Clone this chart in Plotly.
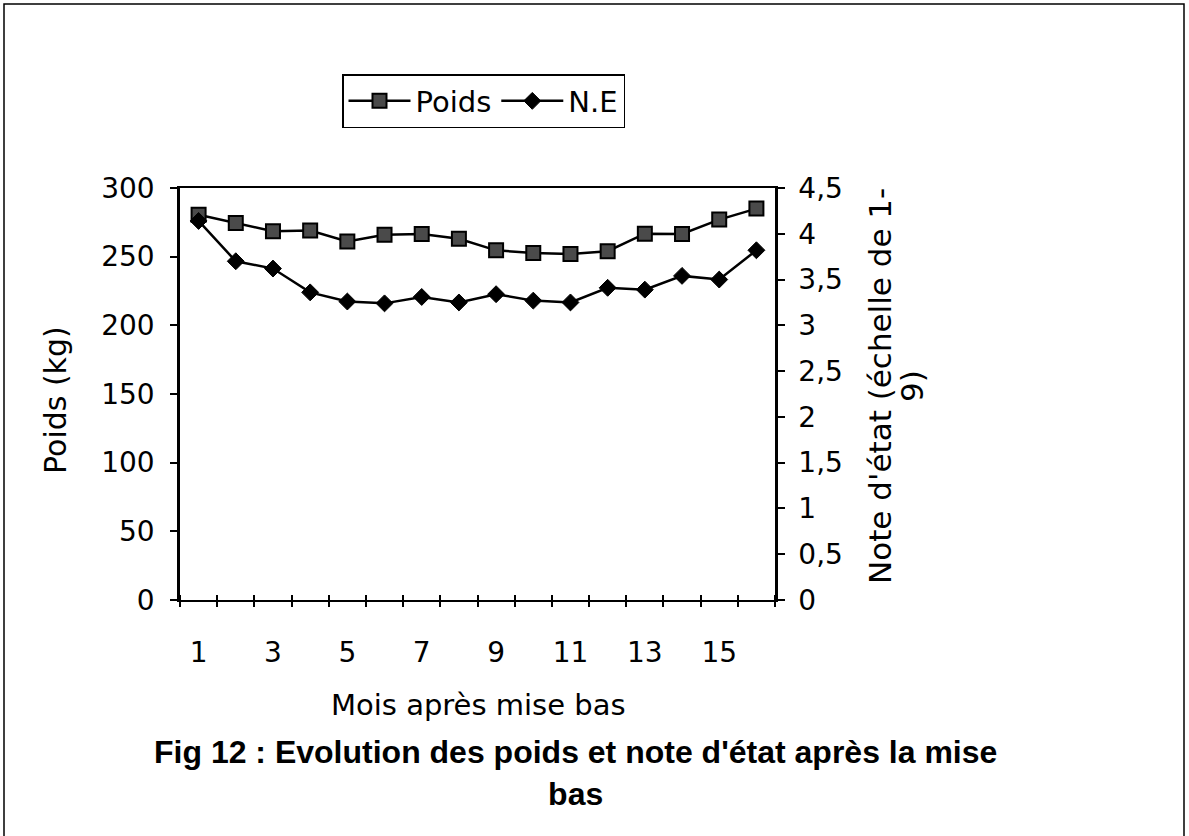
import plotly.graph_objects as go

mois = list(range(1, 17))
poids = [280.5, 274.5, 268.5, 269, 261, 266, 266.5, 263, 254.6, 252.7, 252, 254, 266.7, 266.5, 277, 285]
note_etat = [4.14, 3.70, 3.62, 3.36, 3.26, 3.24, 3.31, 3.25, 3.34, 3.27, 3.25, 3.41, 3.39, 3.54, 3.50, 3.82]
x_ticklabels = [1, 3, 5, 7, 9, 11, 13, 15]
boundaries = [m - 0.5 for m in mois] + [16.5]

W, H = 1189, 836
L, R, T, B = 180, 775, 188, 600
PW, PH = R - L, B - T

def px(x):
    return (x - L) / PW

def py(y):
    return (B - y) / PH

FONT = "DejaVu Sans, Arial, sans-serif"
TFONT = "Liberation Sans, Arial, sans-serif"

fig = go.Figure()
fig.add_trace(go.Scatter(
    x=mois, y=poids, name="Poids", mode="lines+markers",
    line=dict(color="black", width=2.5),
    marker=dict(symbol="square", size=14, color="#4a4a4a",
                line=dict(color="black", width=2)),
    xaxis="x", yaxis="y"))
fig.add_trace(go.Scatter(
    x=mois, y=note_etat, name="N.E", mode="lines+markers",
    line=dict(color="black", width=2.5),
    marker=dict(symbol="diamond", size=13, color="black",
                line=dict(color="black", width=1)),
    xaxis="x", yaxis="y2"))
# invisible helper trace so the tick-only overlay axis (crossing ticks) is drawn
fig.add_trace(go.Scatter(
    x=mois, y=poids, mode="lines", opacity=0, line=dict(width=0),
    showlegend=False, hoverinfo="skip", xaxis="x2", yaxis="y"))

fig.update_layout(
    width=W, height=H,
    margin=dict(l=L, r=W - R, t=T, b=H - B, pad=0),
    paper_bgcolor="white", plot_bgcolor="white",
    separators=", ",
    font=dict(family=FONT, size=28, color="black"),
    showlegend=True,
    legend=dict(orientation="h", xref="container", yref="container",
                x=342 / W, y=1 - 74 / H, xanchor="left", yanchor="top",
                bordercolor="black", borderwidth=1.5,
                font=dict(size=29), itemwidth=62, tracegroupgap=0,
                bgcolor="white"),
    xaxis=dict(range=[0.5, 16.5], tickmode="array", tickvals=x_ticklabels,
               ticktext=[str(v) for v in x_ticklabels], ticks="",
               ticklabelstandoff=26, showgrid=False, zeroline=False,
               showline=True, linecolor="black", linewidth=2, mirror=True,
               tickfont=dict(size=28)),
    xaxis2=dict(range=[0.5, 16.5], overlaying="x", anchor="free",
                position=6 / PH, side="bottom",
                tickmode="array", tickvals=boundaries, ticks="outside",
                ticklen=12, tickwidth=1.5, tickcolor="black",
                showticklabels=False, showgrid=False, zeroline=False,
                showline=False),
    yaxis=dict(range=[0, 300], dtick=50, tick0=0, ticks="outside",
               ticklen=7, tickwidth=1.5, tickcolor="black",
               ticklabelstandoff=10, showgrid=False, zeroline=False,
               showline=True, linecolor="black", linewidth=2.5,
               tickfont=dict(size=28)),
    yaxis2=dict(range=[0, 4.5], dtick=0.5, tick0=0, overlaying="y",
                side="right", anchor="x", ticks="outside", ticklen=7,
                tickwidth=1.5, tickcolor="black", ticklabelstandoff=8,
                showgrid=False, zeroline=False, showline=True,
                linecolor="black", linewidth=2.5, tickfont=dict(size=28)),
)

# outer frame
fig.add_shape(type="rect", xref="paper", yref="paper",
              x0=px(4), x1=px(1184), y0=py(860), y1=py(4),
              line=dict(color="black", width=1.5), layer="below")

fig.add_annotation(text="Mois après mise bas", xref="paper", yref="paper",
                   x=px(478), y=py(705), showarrow=False,
                   xanchor="center", yanchor="middle", font=dict(size=29))
fig.add_annotation(text="Poids (kg)", xref="paper", yref="paper",
                   x=px(55), y=py(400), showarrow=False, textangle=-90,
                   xanchor="center", yanchor="middle", font=dict(size=30))
fig.add_annotation(text="Note d'état (échelle de 1-", xref="paper",
                   yref="paper", x=px(880), y=py(386), showarrow=False,
                   textangle=-90, xanchor="center", yanchor="middle",
                   font=dict(size=31))
fig.add_annotation(text="9)", xref="paper",
                   yref="paper", x=px(912), y=py(386), showarrow=False,
                   textangle=-90, xanchor="center", yanchor="middle",
                   font=dict(size=31))
fig.add_annotation(text="<b>Fig 12 : Evolution des poids et note d'état après la mise<br>bas</b>",
                   xref="paper", yref="paper", x=px(575), y=py(773),
                   showarrow=False, xanchor="center", yanchor="middle",
                   align="center", font=dict(family=TFONT, size=32))

fig.write_html("out.html", config={"displayModeBar": False},
               post_script="document.body.style.margin='0';")
